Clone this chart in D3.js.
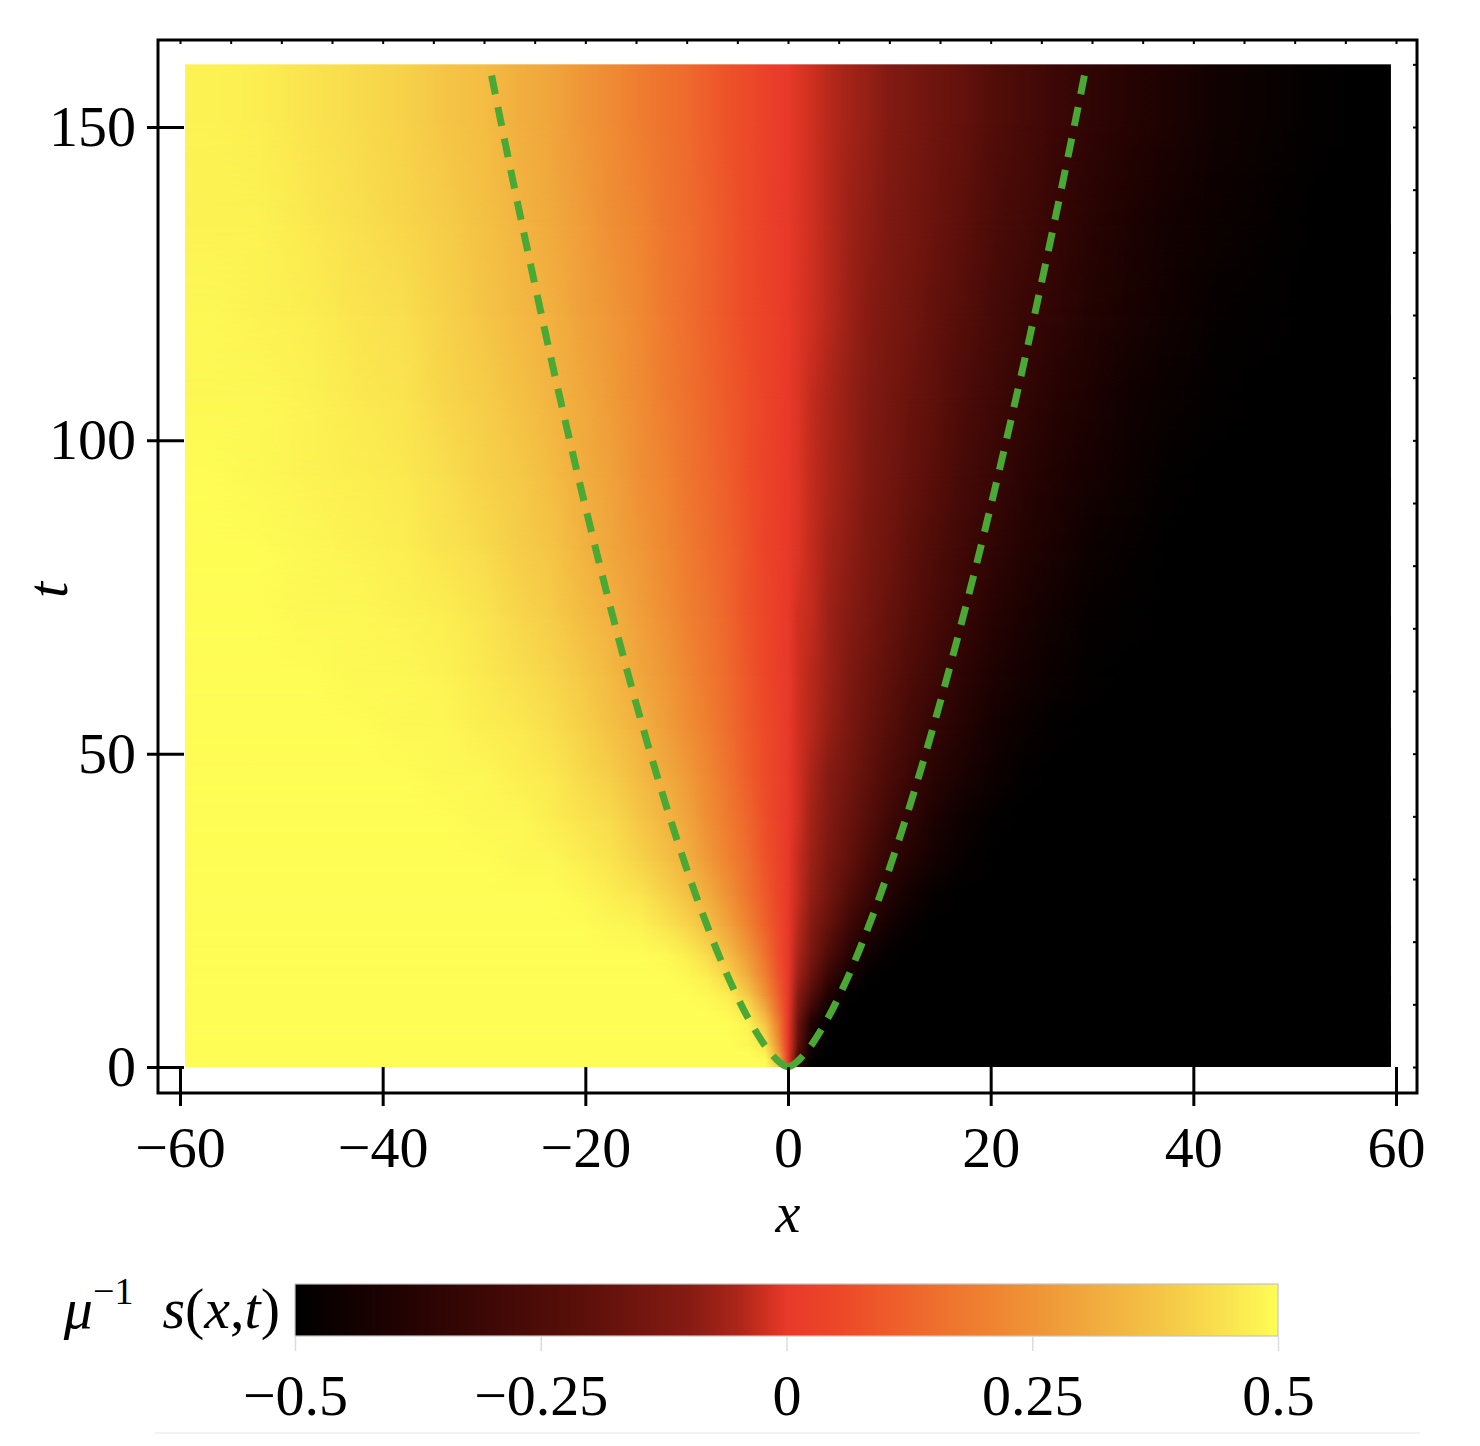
<!DOCTYPE html>
<html><head><meta charset="utf-8">
<script src="https://cdn.jsdelivr.net/npm/d3@7"></script>
<style>
body{margin:0;background:#fff}
svg{display:block}
text{font-family:"Liberation Serif","Times New Roman",serif;fill:#000}
</style>
</head><body>
<svg id="chart" width="1480" height="1446"></svg>
<script>
// ---------- data ----------
const xEdges = [-59.5,-55,-50,-45,-40,-36,-32,-28,-25,-22,-19,-16,-13,-11,-9,-7,-5,-3,-1.5,-0.5,0.5,1.5,3,5,7,9,11,13,16,19,22,25,28,32,36,40,45,50,55,59.5];
const tEdges = [0,1,2,3,4,6,8,10,13,16,20,25,30,36,43,50,58,67,77,88,100,113,127,142,160];
// rows from t=0 upward, columns from x=-59.5 to 59.5
const sRow01 = [0.5,0.5,0.5,0.5,0.5,0.5,0.5,0.5,0.5,0.5,0.5,0.5,0.5,0.5,0.5,0.5,0.5,0.5,0.40,0,-0.35,-0.5,-0.5,-0.5,-0.5,-0.5,-0.5,-0.5,-0.5,-0.5,-0.5,-0.5,-0.5,-0.5,-0.5,-0.5,-0.5,-0.5,-0.5];
const sRow02 = [0.5,0.5,0.5,0.5,0.5,0.5,0.5,0.5,0.5,0.5,0.5,0.5,0.5,0.5,0.5,0.5,0.5,0.49,0.34,0,-0.28,-0.48,-0.5,-0.5,-0.5,-0.5,-0.5,-0.5,-0.5,-0.5,-0.5,-0.5,-0.5,-0.5,-0.5,-0.5,-0.5,-0.5,-0.5];
const sRow03 = [0.5,0.5,0.5,0.5,0.5,0.5,0.5,0.5,0.5,0.5,0.5,0.5,0.5,0.5,0.5,0.5,0.5,0.47,0.29,0,-0.23,-0.46,-0.5,-0.5,-0.5,-0.5,-0.5,-0.5,-0.5,-0.5,-0.5,-0.5,-0.5,-0.5,-0.5,-0.5,-0.5,-0.5,-0.5];
const sRow04 = [0.5,0.5,0.5,0.5,0.5,0.5,0.5,0.5,0.5,0.5,0.5,0.5,0.5,0.5,0.5,0.5,0.49,0.45,0.25,0,-0.20,-0.44,-0.5,-0.5,-0.5,-0.5,-0.5,-0.5,-0.5,-0.5,-0.5,-0.5,-0.5,-0.5,-0.5,-0.5,-0.5,-0.5,-0.5];
const sRow05 = [0.5,0.5,0.5,0.5,0.5,0.5,0.5,0.5,0.5,0.5,0.5,0.5,0.5,0.5,0.5,0.5,0.49,0.42,0.22,0,-0.18,-0.41,-0.5,-0.5,-0.5,-0.5,-0.5,-0.5,-0.5,-0.5,-0.5,-0.5,-0.5,-0.5,-0.5,-0.5,-0.5,-0.5,-0.5];
const sRow06 = [0.5,0.5,0.5,0.5,0.5,0.5,0.5,0.5,0.5,0.5,0.5,0.5,0.5,0.5,0.5,0.5,0.48,0.38,0.20,0,-0.17,-0.39,-0.5,-0.5,-0.5,-0.5,-0.5,-0.5,-0.5,-0.5,-0.5,-0.5,-0.5,-0.5,-0.5,-0.5,-0.5,-0.5,-0.5];
const sRow07 = [0.5,0.5,0.5,0.5,0.5,0.5,0.5,0.5,0.5,0.5,0.5,0.5,0.5,0.5,0.5,0.49,0.45,0.32,0.15,0,-0.13,-0.31,-0.47,-0.5,-0.5,-0.5,-0.5,-0.5,-0.5,-0.5,-0.5,-0.5,-0.5,-0.5,-0.5,-0.5,-0.5,-0.5,-0.5];
const sRow08 = [0.5,0.5,0.5,0.5,0.5,0.5,0.5,0.5,0.5,0.5,0.5,0.5,0.5,0.5,0.49,0.47,0.39,0.25,0.12,0,-0.10,-0.23,-0.40,-0.49,-0.5,-0.5,-0.5,-0.5,-0.5,-0.5,-0.5,-0.5,-0.5,-0.5,-0.5,-0.5,-0.5,-0.5,-0.5];
const sRow09 = [0.5,0.5,0.5,0.5,0.5,0.5,0.5,0.5,0.5,0.5,0.5,0.5,0.5,0.49,0.47,0.42,0.32,0.20,0.09,0,-0.07,-0.17,-0.32,-0.44,-0.49,-0.5,-0.5,-0.5,-0.5,-0.5,-0.5,-0.5,-0.5,-0.5,-0.5,-0.5,-0.5,-0.5,-0.5];
const sRow10 = [0.5,0.5,0.5,0.5,0.5,0.5,0.5,0.5,0.5,0.5,0.5,0.5,0.49,0.47,0.43,0.36,0.27,0.16,0.07,0,-0.05,-0.13,-0.25,-0.37,-0.45,-0.49,-0.5,-0.5,-0.5,-0.5,-0.5,-0.5,-0.5,-0.5,-0.5,-0.5,-0.5,-0.5,-0.5];
const sRow11 = [0.5,0.5,0.5,0.5,0.5,0.5,0.5,0.5,0.5,0.5,0.49,0.48,0.45,0.42,0.37,0.30,0.21,0.12,0.06,0,-0.04,-0.10,-0.19,-0.30,-0.38,-0.44,-0.48,-0.5,-0.5,-0.5,-0.5,-0.5,-0.5,-0.5,-0.5,-0.5,-0.5,-0.5,-0.5];
const sRow12 = [0.5,0.5,0.5,0.5,0.5,0.5,0.5,0.5,0.5,0.49,0.47,0.45,0.41,0.37,0.32,0.25,0.17,0.10,0.05,0,-0.03,-0.08,-0.15,-0.24,-0.32,-0.39,-0.44,-0.48,-0.5,-0.5,-0.5,-0.5,-0.5,-0.5,-0.5,-0.5,-0.5,-0.5,-0.5];
const sRow13 = [0.5,0.5,0.5,0.5,0.5,0.5,0.5,0.49,0.49,0.47,0.45,0.41,0.37,0.33,0.27,0.21,0.15,0.08,0.04,0,-0.03,-0.07,-0.13,-0.19,-0.27,-0.34,-0.39,-0.44,-0.48,-0.5,-0.5,-0.5,-0.5,-0.5,-0.5,-0.5,-0.5,-0.5,-0.5];
const sRow14 = [0.5,0.5,0.5,0.5,0.5,0.5,0.49,0.49,0.47,0.45,0.43,0.38,0.34,0.30,0.24,0.19,0.13,0.07,0.03,0,-0.02,-0.06,-0.11,-0.17,-0.23,-0.30,-0.35,-0.41,-0.46,-0.49,-0.5,-0.5,-0.5,-0.5,-0.5,-0.5,-0.5,-0.5,-0.5];
const sRow15 = [0.5,0.5,0.5,0.5,0.5,0.49,0.49,0.47,0.46,0.43,0.40,0.35,0.31,0.27,0.22,0.17,0.11,0.06,0.03,0,-0.02,-0.05,-0.10,-0.15,-0.20,-0.26,-0.31,-0.37,-0.42,-0.46,-0.49,-0.5,-0.5,-0.5,-0.5,-0.5,-0.5,-0.5,-0.5];
const sRow16 = [0.5,0.5,0.5,0.5,0.49,0.49,0.47,0.46,0.44,0.41,0.37,0.33,0.28,0.24,0.20,0.15,0.10,0.06,0.03,0,-0.02,-0.04,-0.08,-0.13,-0.18,-0.23,-0.28,-0.34,-0.39,-0.44,-0.47,-0.49,-0.5,-0.5,-0.5,-0.5,-0.5,-0.5,-0.5];
const sRow17 = [0.5,0.5,0.5,0.49,0.49,0.48,0.46,0.44,0.42,0.39,0.35,0.30,0.26,0.22,0.18,0.14,0.09,0.05,0.02,0,-0.02,-0.04,-0.07,-0.12,-0.16,-0.20,-0.25,-0.30,-0.36,-0.41,-0.44,-0.47,-0.49,-0.5,-0.5,-0.5,-0.5,-0.5,-0.5];
const sRow18 = [0.5,0.5,0.49,0.49,0.48,0.47,0.45,0.42,0.40,0.36,0.33,0.28,0.24,0.20,0.17,0.13,0.08,0.05,0.02,0,-0.02,-0.03,-0.07,-0.10,-0.14,-0.18,-0.22,-0.27,-0.33,-0.38,-0.42,-0.45,-0.48,-0.49,-0.5,-0.5,-0.5,-0.5,-0.5];
const sRow19 = [0.5,0.5,0.49,0.48,0.47,0.45,0.43,0.40,0.38,0.34,0.30,0.26,0.22,0.19,0.15,0.12,0.08,0.04,0.02,0,-0.01,-0.03,-0.06,-0.09,-0.13,-0.16,-0.20,-0.25,-0.30,-0.35,-0.39,-0.42,-0.46,-0.48,-0.5,-0.5,-0.5,-0.5,-0.5];
const sRow20 = [0.5,0.49,0.48,0.47,0.46,0.44,0.41,0.39,0.36,0.32,0.29,0.24,0.21,0.17,0.14,0.11,0.07,0.04,0.02,0,-0.01,-0.03,-0.05,-0.08,-0.12,-0.15,-0.18,-0.22,-0.28,-0.32,-0.37,-0.40,-0.43,-0.46,-0.49,-0.5,-0.5,-0.5,-0.5];
const sRow21 = [0.49,0.49,0.48,0.46,0.45,0.42,0.40,0.37,0.34,0.31,0.27,0.23,0.19,0.16,0.13,0.10,0.07,0.04,0.02,0,-0.01,-0.03,-0.05,-0.08,-0.11,-0.14,-0.17,-0.20,-0.26,-0.30,-0.34,-0.38,-0.41,-0.45,-0.47,-0.49,-0.5,-0.5,-0.5];
const sRow22 = [0.49,0.48,0.47,0.45,0.44,0.41,0.38,0.35,0.33,0.29,0.26,0.22,0.18,0.15,0.12,0.09,0.06,0.04,0.02,0,-0.01,-0.02,-0.04,-0.07,-0.10,-0.13,-0.15,-0.19,-0.23,-0.28,-0.32,-0.35,-0.39,-0.42,-0.45,-0.48,-0.49,-0.5,-0.5];
const sRow23 = [0.48,0.48,0.46,0.44,0.42,0.40,0.37,0.34,0.31,0.28,0.24,0.21,0.17,0.15,0.12,0.09,0.06,0.03,0.01,0,-0.01,-0.02,-0.04,-0.07,-0.09,-0.12,-0.14,-0.17,-0.21,-0.26,-0.29,-0.33,-0.37,-0.41,-0.44,-0.46,-0.48,-0.50,-0.5];
const sRow24 = [0.48,0.47,0.45,0.43,0.41,0.38,0.36,0.32,0.30,0.26,0.23,0.19,0.16,0.14,0.11,0.08,0.06,0.03,0.01,0,-0.01,-0.02,-0.04,-0.06,-0.08,-0.11,-0.13,-0.16,-0.19,-0.24,-0.27,-0.31,-0.35,-0.38,-0.41,-0.45,-0.47,-0.49,-0.50];
const sRows = [sRow01,sRow02,sRow03,sRow04,sRow05,sRow06,sRow07,sRow08,sRow09,sRow10,sRow11,sRow12,
               sRow13,sRow14,sRow15,sRow16,sRow17,sRow18,sRow19,sRow20,sRow21,sRow22,sRow23,sRow24];

// green dashed guide curves: |x| against t
const curveT = [0,0.25,0.5,1,2,3,4,6,8,10,13,16,20,25,30,40,50,60,70,80,90,100,110,120,130,140,150,160];
const curveX = [0,0.397,0.630,1,1.587,2.080,2.520,3.302,4,4.642,5.529,6.350,7.368,8.550,9.655,11.696,13.572,15.326,16.985,18.566,20.083,21.544,22.958,24.329,25.662,26.960,28.231,29.472];

const xTicks = [-60,-40,-20,0,20,40,60];
const xTickLabels = ["−60","−40","−20","0","20","40","60"];
const tTicks = [0,50,100,150];
const tTickLabels = ["0","50","100","150"];
const cbTicks = [-0.5,-0.25,0,0.25,0.5];
const cbTickLabels = ["−0.5","−0.25","0","0.25","0.5"];

// colour map
const colorDomain = [-0.5,-0.4,-0.3,-0.2,-0.1,-0.05,-0.02,0,0.05,0.1,0.15,0.2,0.25,0.3,0.35,0.4,0.45,0.5];
const colorRange = ["#000000","#1f0201","#3e0806","#5e100a","#851b13","#ab2519","#d03020","#e8392a","#ec4628","#ee5a2a","#ee6e2e","#ef8030","#ef9336","#f0a63c","#f3b942","#f6cd48","#fae44f","#fefd55"];

// ---------- drawing ----------
sRows.forEach((r,i)=>{ if(r.length!==xEdges.length-1) throw new Error("row "+(i+1)+" has "+r.length); });

const svg = d3.select("#chart");
const defs = svg.append("defs");
const x = d3.scaleLinear().domain([-60,60]).range([180,1396]);
const y = d3.scaleLinear().domain([0,150]).range([1067,127]);
const color = d3.scaleLinear().domain(colorDomain).range(colorRange).interpolate(d3.interpolateRgb).clamp(true);

// heat map: every row of cells is shaded as a smooth strip through its cell centres
const xc = xEdges.slice(0,-1).map((e,j)=>(e+xEdges[j+1])/2);
const tc = tEdges.slice(0,-1).map((e,i)=>(e+tEdges[i+1])/2);
const X0 = x(xEdges[0]), X1 = x(xEdges[xEdges.length-1]);
sRows.forEach((row,i)=>{
  const g = defs.append("linearGradient").attr("id","row"+i).attr("gradientUnits","userSpaceOnUse")
    .attr("x1",X0).attr("x2",X1).attr("y1",0).attr("y2",0);
  row.forEach((v,j)=>g.append("stop").attr("offset",(x(xc[j])-X0)/(X1-X0)).attr("stop-color",color(v)));
});
const fadeGrad = defs.append("linearGradient").attr("id","fadeGrad").attr("x1",0).attr("y1",1).attr("x2",0).attr("y2",0);
fadeGrad.append("stop").attr("offset",0).attr("stop-color","#000");
fadeGrad.append("stop").attr("offset",1).attr("stop-color","#fff");
defs.append("mask").attr("id","fade").attr("maskContentUnits","objectBoundingBox")
  .append("rect").attr("width",1).attr("height",1).attr("fill","url(#fadeGrad)");

const heat = svg.append("g");
const n = sRows.length;
heat.append("rect").attr("x",X0).attr("width",X1-X0)
  .attr("y",y(tc[0])).attr("height",y(tEdges[0])-y(tc[0])).attr("fill","url(#row0)");
for(let i=0;i<n-1;i++){
  const top = y(tc[i+1]), bot = y(tc[i]);
  heat.append("rect").attr("x",X0).attr("width",X1-X0).attr("y",top).attr("height",bot-top+1).attr("fill","url(#row"+i+")");
  heat.append("rect").attr("x",X0).attr("width",X1-X0).attr("y",top).attr("height",bot-top+1).attr("fill","url(#row"+(i+1)+")").attr("mask","url(#fade)");
}
heat.append("rect").attr("x",X0).attr("width",X1-X0)
  .attr("y",y(tEdges[tEdges.length-1])).attr("height",y(tc[n-1])-y(tEdges[tEdges.length-1])+1).attr("fill","url(#row"+(n-1)+")");

// guide curves
const line = d3.line().curve(d3.curveCatmullRom);
[1,-1].forEach(sg=>{
  svg.append("path")
    .attr("d",line(curveT.map((t,i)=>[x(sg*curveX[i]),y(t)])))
    .attr("fill","none").attr("stroke","#4aa834").attr("stroke-width",7)
    .attr("stroke-dasharray","19,13");
});

// frame
svg.append("rect").attr("x",158).attr("y",40).attr("width",1417-158).attr("height",1093-40)
  .attr("fill","none").attr("stroke","#000").attr("stroke-width",3);

// bottom axis (ticks cross the frame)
const gx = svg.append("g").attr("transform","translate(0,1067)")
  .call(d3.axisBottom(x).tickValues(xTicks).tickSize(39).tickPadding(20).tickFormat((d,i)=>xTickLabels[i]));
gx.select(".domain").remove();
gx.selectAll(".tick line").attr("stroke","#000").attr("stroke-width",3);
gx.selectAll(".tick text").attr("font-size",58).attr("font-family","Liberation Serif, serif");

// left axis
const gy = svg.append("g").attr("transform","translate(184,0)")
  .call(d3.axisLeft(y).tickValues(tTicks).tickSize(37).tickPadding(11).tickFormat((d,i)=>tTickLabels[i]));
gy.select(".domain").remove();
gy.selectAll(".tick line").attr("stroke","#000").attr("stroke-width",3);
gy.selectAll(".tick text").attr("font-size",58).attr("font-family","Liberation Serif, serif");

// minor ticks top & right
const gtop = svg.append("g").attr("transform","translate(0,40)")
  .call(d3.axisTop(x).tickValues(d3.range(-60,61,5)).tickSize(-4).tickFormat(""));
gtop.select(".domain").remove();
gtop.selectAll(".tick line").attr("stroke","#000").attr("stroke-width",2);
const gright = svg.append("g").attr("transform","translate(1417,0)")
  .call(d3.axisRight(y).tickValues(d3.range(0,161,10)).tickSize(-4).tickFormat(""));
gright.select(".domain").remove();
gright.selectAll(".tick line").attr("stroke","#000").attr("stroke-width",2);

// axis titles
svg.append("text").attr("x",788).attr("y",1232).attr("text-anchor","middle")
  .attr("font-size",56).attr("font-style","italic").text("x");
svg.append("text").attr("transform","translate(67,590) rotate(-90)").attr("text-anchor","middle")
  .attr("font-size",58).attr("font-style","italic").text("t");

// colour bar
const cb = d3.scaleLinear().domain([-0.5,0.5]).range([295,1278]);
const grad = defs.append("linearGradient").attr("id","cbgrad").attr("x1","0%").attr("x2","100%").attr("y1","0%").attr("y2","0%");
colorDomain.forEach((d,i)=>grad.append("stop").attr("offset",((d+0.5)*100)+"%").attr("stop-color",colorRange[i]));
svg.append("rect").attr("x",cb(-0.5)).attr("y",1284).attr("width",cb(0.5)-cb(-0.5)).attr("height",52)
  .attr("fill","url(#cbgrad)").attr("stroke","#c4c4c4").attr("stroke-width",1.2);
const gcb = svg.append("g").attr("transform","translate(0,1336)")
  .call(d3.axisBottom(cb).tickValues(cbTicks).tickSize(15).tickPadding(23).tickFormat((d,i)=>cbTickLabels[i]));
gcb.select(".domain").remove();
gcb.selectAll(".tick line").attr("stroke","#dcdcdc").attr("stroke-width",1.5);
gcb.selectAll(".tick text").attr("font-size",58).attr("font-family","Liberation Serif, serif");

svg.append("line").attr("x1",155).attr("x2",1420).attr("y1",1433).attr("y2",1433)
  .attr("stroke","#f2f2f2").attr("stroke-width",2);

// colour bar title
const lab = svg.append("text").attr("x",280).attr("y",1328).attr("text-anchor","end").attr("font-size",58);
lab.append("tspan").attr("font-style","italic").text("μ");
lab.append("tspan").attr("font-size",38).attr("dy",-24).text("−1");
lab.append("tspan").attr("dy",24).text("\u2002");
lab.append("tspan").attr("font-style","italic").text("s");
lab.append("tspan").text("(");
lab.append("tspan").attr("font-style","italic").text("x");
lab.append("tspan").text(",");
lab.append("tspan").attr("font-style","italic").text("t");
lab.append("tspan").text(")");
</script>
</body></html>
